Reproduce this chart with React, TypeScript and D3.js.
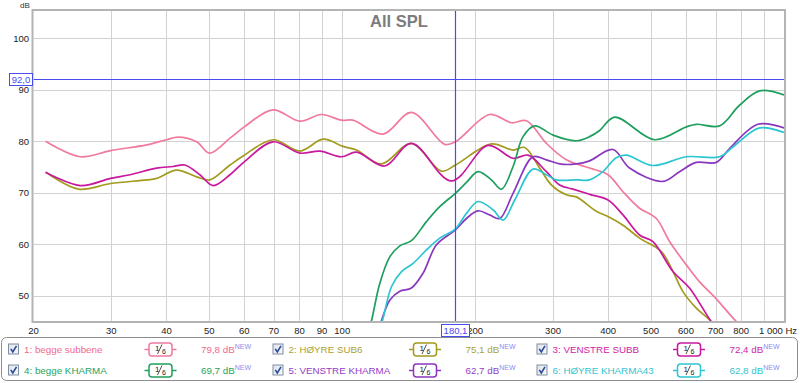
import React from 'react';
import * as d3 from 'd3';

// ---------- data ----------
const gridFreqs = [30, 40, 50, 60, 70, 80, 90, 100, 200, 300, 400, 500, 600, 700, 800, 900];
const freqTickLabels = [20, 30, 40, 50, 60, 70, 80, 90, 100, 200, 300, 400, 500, 600, 700, 800];
const dbTicks = [50, 60, 70, 80, 90, 100];

const s1Freq = [21.3, 25.5, 29.9, 36.1, 40, 42.5, 46.8, 50.1, 55.7, 60, 69.7, 80.2, 89.7, 99.6, 105.7, 123.7, 143.4, 170.6, 180.4, 215.6, 241.6, 261.2, 289.8, 321.6, 363, 399.6, 432, 471, 514, 551, 601, 644, 696, 780, 830];
const s1Db = [80.0, 77.0, 78.2, 79.3, 80.3, 80.8, 79.9, 77.7, 80.6, 82.8, 86.1, 83.9, 85.2, 84.1, 84.1, 81.4, 85.6, 79.4, 79.9, 85.2, 83.6, 84.0, 79.6, 76.4, 74.8, 73.5, 70.2, 67.0, 65.0, 60.5, 56.0, 52.7, 49.8, 45.0, 43.0];

const s2Freq = [21.3, 25.3, 29.9, 36.1, 38.0, 42.2, 46.8, 50.1, 55.7, 60, 69.7, 80.2, 90.5, 100.5, 107.7, 122.7, 143.4, 167.7, 180.4, 217.6, 243.6, 258.8, 279.8, 297.6, 321.6, 338.8, 376, 399.6, 432, 471, 527.6, 560.6, 590.5, 633, 679, 730];
const s2Db = [74.0, 70.7, 71.8, 72.5, 72.8, 74.4, 73.1, 72.5, 75.4, 77.3, 80.3, 78.1, 80.4, 79.0, 78.3, 75.6, 79.6, 74.2, 75.4, 79.5, 78.3, 78.8, 74.8, 71.5, 69.6, 69.2, 66.4, 65.4, 63.7, 61.2, 58.6, 54.7, 50.8, 47.6, 45.3, 42.0];

const s3Freq = [21.3, 25.5, 29.9, 33.1, 38.0, 41.4, 44.0, 47.6, 51.0, 55.7, 60, 69.7, 80.2, 89.0, 99.6, 107.7, 124.8, 143.4, 176.7, 213.8, 243.6, 263.4, 289.8, 310.6, 333, 363, 399.6, 432, 471, 505, 560.6, 611, 684, 730];
const s3Db = [74.0, 71.4, 72.8, 73.5, 74.8, 75.1, 75.4, 73.5, 71.4, 73.5, 76.0, 79.9, 77.7, 78.1, 77.0, 77.9, 75.2, 79.6, 72.3, 79.2, 76.7, 77.3, 74.1, 71.5, 70.7, 69.7, 68.6, 65.7, 61.8, 60.5, 54.7, 51.5, 45.0, 42.0];

const s4Freq = [110, 116.5, 121.6, 128.2, 135, 143.4, 155.1, 166.2, 180.4, 191, 203, 217.6, 229.3, 243.6, 256.6, 272.6, 300, 338.8, 363, 382.6, 413.7, 509.6, 601, 633, 714.8, 793, 880.6, 1000];
const s4Db = [37.0, 45.2, 52.4, 57.6, 59.7, 60.7, 64.4, 67.3, 69.9, 72.0, 74.1, 72.5, 70.7, 75.1, 80.9, 83.0, 81.2, 80.1, 80.9, 82.1, 84.7, 80.3, 82.8, 83.3, 83.0, 87.0, 89.8, 89.0];

const s5Freq = [115, 122.7, 128.2, 135, 143.4, 152.4, 163.4, 180.4, 191, 203, 215.6, 227.2, 243.6, 270.3, 289.8, 310.6, 338.8, 363, 410, 447, 532, 580, 633, 703, 753, 873, 1000];
const s5Db = [38.0, 45.2, 49.2, 50.9, 51.5, 54.4, 59.9, 62.8, 65.0, 66.5, 65.7, 65.0, 69.9, 77.0, 76.4, 75.6, 75.6, 76.2, 78.4, 74.8, 72.2, 74.1, 75.9, 75.9, 78.6, 83.3, 82.6];

const s6Freq = [116, 123.3, 129.3, 136.2, 144.7, 155.1, 166.2, 180.4, 191, 203, 219.4, 231.2, 245.8, 270.3, 289.8, 305.4, 338.8, 363, 389, 417, 439.6, 505, 601, 715, 766, 880.6, 1000];
const s6Db = [38.0, 45.2, 51.8, 54.7, 56.3, 58.9, 61.2, 63.0, 66.0, 68.3, 66.7, 64.7, 68.6, 74.6, 73.5, 72.5, 72.5, 72.5, 74.1, 76.8, 77.3, 75.3, 77.0, 77.0, 78.9, 82.6, 81.7];

const seriesNames = ['1: begge subbene', '2: HØYRE SUB6', '3: VENSTRE SUBB', '4: begge KHARMA', '5: VENSTRE KHARMA', '6: HØYRE KHARMA43'];
const seriesValues = ['79,8 dB', '75,1 dB', '72,4 dB', '69,7 dB', '62,7 dB', '62,8 dB'];
const seriesFreqs = [s1Freq, s2Freq, s3Freq, s4Freq, s5Freq, s6Freq];
const seriesDbs = [s1Db, s2Db, s3Db, s4Db, s5Db, s6Db];
const lineColors = ['#f07a9c', '#a39b1e', '#c8189e', '#1f9f5e', '#8a36bd', '#2cc6d2'];
const textColors = ['#f06890', '#aaa232', '#d024a6', '#25a460', '#9440c4', '#34c4d0'];

const markerFreq = 180.1;
const markerFreqLabel = '180,1';
const markerDb = 92.0;
const markerDbLabel = '92,0';
const title = 'All SPL';

// ---------- layout ----------
const W = 800, H = 383;
const P = { left: 33.5, right: 784, top: 11, bottom: 321 };
const FONT = 'Liberation Sans, Arial, sans-serif';
const BLUE = '#4a4af2';

const x = d3.scaleLog().domain([20, 1000]).range([P.left, P.right]);
const y = d3.scaleLinear().domain([45.1, 105.3]).range([P.bottom, P.top]);

const lineGen = d3.line<[number, number]>()
  .x(d => x(d[0]))
  .y(d => y(d[1]))
  .curve(d3.curveCatmullRom.alpha(0.5));

function SmoothIcon({ cx, cy, color }: { cx: number; cy: number; color: string }) {
  return (
    <g>
      <line x1={cx - 16} x2={cx - 11.5} y1={cy} y2={cy} stroke={color} strokeWidth={1.5} />
      <line x1={cx + 11.5} x2={cx + 16} y1={cy} y2={cy} stroke={color} strokeWidth={1.5} />
      <rect x={cx - 11.5} y={cy - 6.5} width={23} height={13} rx={3} fill="#fff" stroke={color} strokeWidth={1.5} />
      <text x={cx - 5.5} y={cy + 1} fontSize={8} fontFamily={FONT} fill="#222">1</text>
      <line x1={cx - 3} y1={cy + 4.5} x2={cx + 1.5} y2={cy - 5} stroke="#222" strokeWidth={0.8} />
      <text x={cx + 1.5} y={cy + 4.5} fontSize={7} fontFamily={FONT} fill="#222">6</text>
    </g>
  );
}

function CheckBox({ x0, cy }: { x0: number; cy: number }) {
  return (
    <g>
      <rect x={x0 + 0.5} y={cy - 5.5} width={10} height={10} fill="url(#cbg)" stroke="#7f8ea3" strokeWidth={1} />
      <path d={`M${x0 + 2.8},${cy - 0.6} L${x0 + 4.8},${cy + 2.4} L${x0 + 8.5},${cy - 3.6}`} fill="none" stroke="#2b4a9a" strokeWidth={1.6} />
    </g>
  );
}

export default function App() {
  const colX = [8, 272.5, 536.5];
  const rowY = [349.5, 370.5];
  const mx = Math.round(x(markerFreq)) + 0.5;
  const my = Math.round(y(markerDb)) + 0.5;
  return (
    <svg width={W} height={H} style={{ position: 'absolute', left: 0, top: 0, background: '#fff' }} fontFamily={FONT}>
      <defs>
        <clipPath id="plotClip">
          <rect x={P.left} y={P.top} width={P.right - P.left} height={P.bottom - P.top} />
        </clipPath>
        <linearGradient id="cbg" x1="0" y1="0" x2="1" y2="1">
          <stop offset="0" stopColor="#dfe3ea" />
          <stop offset="1" stopColor="#f8f9fb" />
        </linearGradient>
      </defs>
      <rect x={0} y={0} width={W} height={H} fill="#fff" />
      {/* grid */}
      {gridFreqs.map(f => (
        <line key={'gx' + f} x1={Math.round(x(f)) + 0.5} x2={Math.round(x(f)) + 0.5} y1={P.top} y2={P.bottom} stroke="#d2d2d2" strokeWidth={1} />
      ))}
      {dbTicks.map(d => (
        <line key={'gy' + d} x1={P.left} x2={P.right} y1={Math.round(y(d)) + 0.5} y2={Math.round(y(d)) + 0.5} stroke="#d2d2d2" strokeWidth={1} />
      ))}
      {/* title */}
      <text x={399} y={26.5} textAnchor="middle" fontSize={16.5} fontWeight="bold" fill="#7c7c7c">{title}</text>
      {/* curves */}
      <g clipPath="url(#plotClip)">
        {seriesFreqs.map((fs, i) => {
          const pts = fs.map((f, j) => [f, seriesDbs[i][j]] as [number, number]);
          return <path key={'s' + i} d={lineGen(pts) || ''} fill="none" stroke={lineColors[i]} strokeWidth={1.7} />;
        })}
      </g>
      {/* markers */}
      <line x1={P.left} x2={P.right} y1={my} y2={my} stroke={BLUE} strokeWidth={1.2} />
      <line x1={mx} x2={mx} y1={P.top} y2={P.bottom} stroke={BLUE} strokeWidth={1.2} />
      {/* frame */}
      <rect x={P.left - 1} y={P.top - 1} width={P.right - P.left + 2} height={P.bottom - P.top + 2} fill="none" stroke="#b4b4b4" strokeWidth={2} />
      {/* y axis labels */}
      <text x={20} y={7.5} fontSize={8} fill="#333">dB</text>
      {dbTicks.map(d => (
        <text key={'yl' + d} x={29} y={y(d) + 3.3} textAnchor="end" fontSize={9.5} fill="#222">{d}</text>
      ))}
      {/* x axis labels */}
      {freqTickLabels.map(f => (
        <text key={'xl' + f} x={x(f)} y={334} textAnchor="middle" fontSize={9.5} fill="#222">{f}</text>
      ))}
      <text x={797} y={334} textAnchor="end" fontSize={9.5} fill="#222">1 000 Hz</text>
      {/* marker labels */}
      <rect x={9.5} y={my - 6} width={23} height={12} fill="#fff" stroke={BLUE} strokeWidth={1} />
      <text x={21} y={my + 3.5} textAnchor="middle" fontSize={9.5} fill={BLUE}>{markerDbLabel}</text>
      <rect x={mx - 14} y={324.5} width={28} height={12} fill="#fff" stroke={BLUE} strokeWidth={1} />
      <text x={mx} y={334} textAnchor="middle" fontSize={9.5} fill={BLUE}>{markerFreqLabel}</text>
      {/* legend */}
      <rect x={1.5} y={337.5} width={796} height={43} rx={5} fill="#fff" stroke="#8c8c8c" strokeWidth={1} />
      {seriesNames.map((name, i) => {
        const x0 = colX[i % 3];
        const cy = rowY[i < 3 ? 0 : 1];
        return (
          <g key={'lg' + i}>
            <CheckBox x0={x0} cy={cy} />
            <text x={x0 + 16} y={cy + 3.5} fontSize={9.8} fill={textColors[i]}>{name}</text>
            <SmoothIcon cx={x0 + 152.5} cy={cy} color={lineColors[i]} />
            <text x={x0 + 193} y={cy + 3.5} fontSize={9.8} fill={textColors[i]}>
              {seriesValues[i]}
              <tspan fontSize={7} dy={-4.5} fill="#8c8cf0">NEW</tspan>
            </text>
          </g>
        );
      })}
    </svg>
  );
}
